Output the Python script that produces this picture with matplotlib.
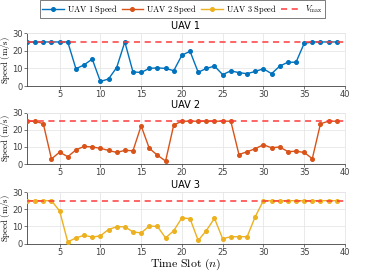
import matplotlib
matplotlib.use("Agg")
import matplotlib.pyplot as plt
from matplotlib.lines import Line2D

plt.rcParams['mathtext.fontset'] = 'cm'

slots = list(range(1, 40))
uav1 = [25, 25, 25, 25, 25, 25, 9.8, 12, 15.3, 2.6, 4, 10.5, 25, 8, 7.7, 10, 10.3, 10, 8.7,
        17.5, 19.7, 7.8, 10, 11.3, 6.5, 8.6, 7.6, 7, 8.3, 9.8, 7, 11.3, 13.5, 13.5, 24.2,
        25, 25, 25, 25]
uav2 = [25, 25, 23.5, 3, 7, 4.3, 8.3, 10.3, 10, 9.2, 8, 6.8, 8, 7.8, 22.3, 9.2, 5.2, 1.8,
        22.8, 25, 25, 25, 25, 25, 25, 25, 5.6, 7.2, 9, 11.3, 9.5, 10, 7.3, 7.5, 6.8, 3.2,
        23.5, 25, 25]
uav3 = [25, 25, 25, 25, 19, 1, 3.3, 4.8, 3.8, 4.5, 8.2, 9.8, 9.8, 6.8, 6.2, 10.2, 10, 3.3,
        7.5, 15, 14.5, 1.8, 7.6, 14.7, 2.8, 4, 4, 4, 15.7, 25, 25, 25, 25, 25, 25, 25, 25,
        25, 25]
v_max = 25
titles = ['UAV 1', 'UAV 2', 'UAV 3']
series_labels = ['UAV 1 Speed', 'UAV 2 Speed', 'UAV 3 Speed']
colors = ['#0072BD', '#D95319', '#EDB120']
vmax_color = '#FF3B3B'

fig = plt.figure(figsize=(3.65, 2.74), dpi=100)
positions = [[0.074, 0.686, 0.871, 0.193],
             [0.074, 0.401, 0.871, 0.188],
             [0.074, 0.111, 0.871, 0.188]]

for data, title, color, pos in zip([uav1, uav2, uav3], titles, colors, positions):
    ax = fig.add_axes(pos)
    ax.plot(slots, data, '-o', color=color, lw=1.0, ms=2.6, zorder=3)
    ax.axhline(v_max, color=vmax_color, ls=(0, (4, 3)), lw=1.1, zorder=4)
    ax.set_xlim(1, 40)
    ax.set_ylim(0, 30)
    ax.set_xticks([5, 10, 15, 20, 25, 30, 35, 40])
    ax.set_yticks([0, 10, 20, 30])
    ax.grid(True, color='#e6e6e6', lw=0.6)
    ax.set_axisbelow(True)
    for s in ['top', 'right']:
        ax.spines[s].set_color('#e6e6e6')
        ax.spines[s].set_linewidth(0.6)
    for s in ['left', 'bottom']:
        ax.spines[s].set_color('#404040')
        ax.spines[s].set_linewidth(0.6)
    ax.tick_params(labelsize=6, length=2, width=0.5, colors='#404040', pad=1)
    ax.set_title(title, fontsize=7, pad=3)
    ax.set_ylabel(r'$\mathrm{Speed\ (m/s)}$', fontsize=6.3, labelpad=0)

ax.set_xlabel(r'$\mathrm{Time\ Slot\ }(n)$', fontsize=8.5, labelpad=0)

handles = [Line2D([], [], color=c, marker='o', ms=2.6, lw=1.0) for c in colors]
handles.append(Line2D([], [], color=vmax_color, ls=(0, (4, 3)), lw=1.1))
labels = [r'$\mathrm{UAV\ 1\ Speed}$', r'$\mathrm{UAV\ 2\ Speed}$', r'$\mathrm{UAV\ 3\ Speed}$',
          r'$V_{\max}$']
fig.legend(handles, labels, loc='center', bbox_to_anchor=(0.50, 0.967), ncol=4,
           fontsize=6, frameon=True, fancybox=False, edgecolor='#404040',
           handlelength=2.6, columnspacing=0.5, handletextpad=0.35,
           borderpad=0.3, borderaxespad=0).get_frame().set_linewidth(0.6)

fig.savefig('out.png', dpi=100)
